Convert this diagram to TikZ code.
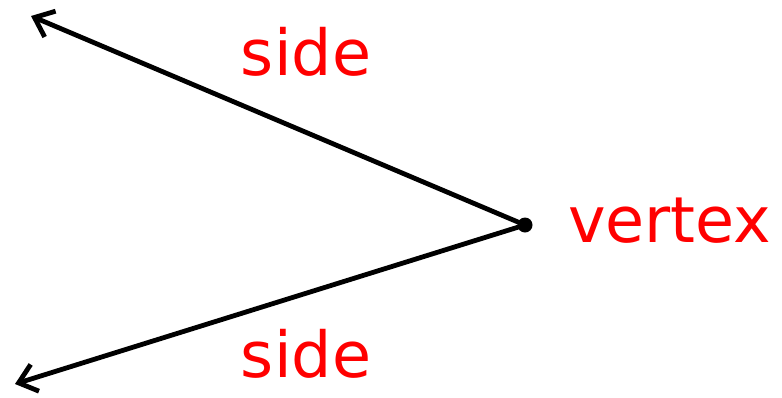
\documentclass[tikz,border=0pt]{standalone}
\usepackage{fontspec}
\setmainfont{DejaVu Sans}
\usepackage{tikz}
\usetikzlibrary{arrows.meta,positioning}

\begin{document}
\begin{tikzpicture}[
    x=1pt, y=-1pt,
    vert/.style={circle, fill=black, inner sep=0pt, minimum size=15pt},
    lbl/.style={text=red, inner sep=0pt, font=\fontsize{63.5}{66}\selectfont},
    ray/.style={-{Straight Barb[length=17pt, width=28pt]}, line width=4.8pt, line cap=round}
]
\useasboundingbox (0,0) rectangle (782,397);

% Vertex and ray ends
\node[vert] (vtx) at (525,225) {};
\coordinate (up) at (31,16);
\coordinate (dn) at (15,384);

% Sides
\draw[ray] (vtx.center) -- (up);
\draw[ray] (vtx.center) -- (dn);

% Labels
\node[lbl, anchor=base] (sideup) at (306,75) {side};
\node[lbl, anchor=base] (sidedn) at (306,377) {side};
\node[lbl, anchor=base west] (vlbl) at (568,242) {vertex};

\end{tikzpicture}
\end{document}
